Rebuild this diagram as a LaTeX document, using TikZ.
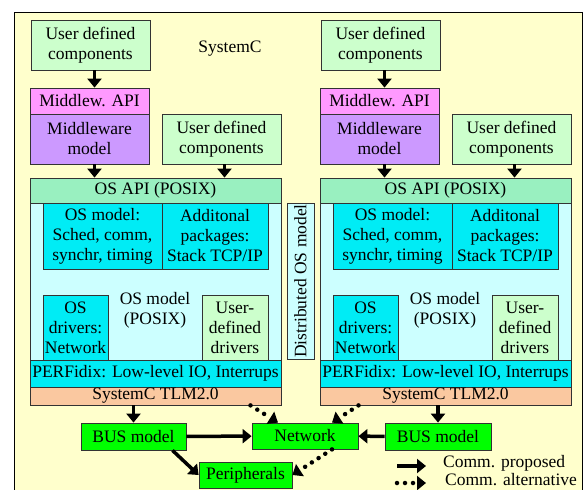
\documentclass[tikz,border=0pt]{standalone}
\usepackage{fontspec}
\setmainfont{Liberation Serif}
\usetikzlibrary{arrows.meta}

\definecolor{scbg}{RGB}{255,255,204}
\definecolor{usergreen}{RGB}{204,255,204}
\definecolor{mwapi}{RGB}{255,153,255}
\definecolor{mwmodel}{RGB}{204,153,255}
\definecolor{osapi}{RGB}{153,240,192}
\definecolor{osbg}{RGB}{204,255,255}
\definecolor{oscyan}{RGB}{0,236,245}
\definecolor{tlm}{RGB}{250,200,160}
\definecolor{hwgreen}{RGB}{0,255,0}

\newcommand{\boxfont}{\fontsize{17.5}{20}\selectfont}

\tikzset{
  blk/.style={draw=black!80, line width=0.8pt, inner sep=0pt, align=center, font=\boxfont},
  lbl/.style={inner sep=0pt, align=center, font=\boxfont},
  comm/.style={line width=3.5pt, -{Triangle[length=9pt,width=14pt]}},
  commalt/.style={line width=4.5pt, line cap=round, dash pattern=on 0pt off 8pt,
                  -{Triangle[length=9pt,width=14pt,line cap=butt]}},
}

\begin{document}
\begin{tikzpicture}[x=1pt,y=-1pt]
  \useasboundingbox (0,0) rectangle (584,490);
  \clip (0,0) rectangle (584,490);

  % SystemC frame
  \draw[fill=scbg, line width=1pt] (14,12) rectangle (582,500);
  \node[lbl] (sysc) at (230,49) {SystemC};

  % the two nodes (left and right)
  \foreach \s/\dx in {l/0, r/290} {
    \begin{scope}[xshift=\dx]
      \node[blk, fill=usergreen, minimum width=119, minimum height=50] (usera\s) at (90.5,45) {User defined\\components};
      \node[blk, fill=mwapi, minimum width=119, minimum height=26] (mwapi\s) at (89.5,101) {Middlew. API};
      \node[blk, fill=mwmodel, minimum width=119, minimum height=50] (mw\s) at (89.5,139) {Middleware\\model};
      \node[blk, fill=usergreen, minimum width=119, minimum height=50] (userb\s) at (221.5,139) {User defined\\components};

      \node[blk, fill=osapi, minimum width=251, minimum height=25] (osapi\s) at (155.5,190.5) {OS API (POSIX)};
      \node[blk, fill=osbg, minimum width=251, minimum height=157] (osbg\s) at (155.5,281.5) {};
      \node[blk, fill=oscyan, minimum width=119, minimum height=66] (osm\s) at (102.5,236) {OS model:\\Sched, comm,\\synchr, timing};
      \node[blk, fill=oscyan, minimum width=106, minimum height=66] (pkg\s) at (215,236) {Additonal\\packages:\\Stack TCP/IP};
      \node[blk, fill=oscyan, minimum width=65, minimum height=65] (drv\s) at (75.5,327.5) {OS\\drivers:\\Network};
      \node[blk, fill=usergreen, minimum width=66, minimum height=65] (udrv\s) at (235,327.5) {User-\\defined\\drivers};
      \node[lbl] (posix\s) at (155,310) {OS model\\(POSIX)};

      \node[blk, fill=oscyan, minimum width=251, minimum height=27] (perf\s) at (155.5,373.5) {PERFidix: Low-level IO, Interrups};
      \node[blk, fill=tlm, minimum width=251, minimum height=18] (tlm\s) at (155.5,396) {SystemC TLM2.0};

      \draw[comm] ([xshift=4pt]usera\s.south) -- ([xshift=4pt]usera\s.south |- mwapi\s.north);
      \draw[comm] ([xshift=5pt]mw\s.south) -- ([xshift=5pt]mw\s.south |- osapi\s.north);
      \draw[comm] ([xshift=3pt]userb\s.south) -- ([xshift=3pt]userb\s.south |- osapi\s.north);
    \end{scope}
  }

  \node[blk, fill=osbg, rotate=90, minimum width=156, minimum height=27] (dist) at (300.5,281) {Distributed OS model};

  % hardware side
  \node[blk, fill=hwgreen, minimum width=105, minimum height=27] (busl) at (133.5,436.5) {BUS model};
  \node[blk, fill=hwgreen, minimum width=106, minimum height=26] (net) at (305,436) {Network};
  \node[blk, fill=hwgreen, minimum width=106, minimum height=27] (busr) at (438,436.5) {BUS model};
  \node[blk, fill=hwgreen, minimum width=93, minimum height=26] (peri) at (245.5,475) {Peripherals};

  \draw[comm] (busl.north |- tlml.south) -- (busl.north);
  \draw[comm] (busr.north |- tlmr.south) -- (busr.north);
  \draw[comm] (busl) -- (net);
  \draw[comm] (busr) -- (net);
  \draw[comm] ([xshift=39pt]busl.south) -- (peri.west);
  \draw[commalt] ([xshift=95pt]tlml.south) -- ([xshift=-27pt]net.north);
  \draw[commalt] ([xshift=-87pt]tlmr.south) -- ([xshift=27pt]net.north);
  \draw[commalt] ([xshift=27pt]net.south) -- (peri.east);

  % legend
  \coordinate (lga) at (397,466);
  \coordinate (lgb) at (426,466);
  \coordinate (lgc) at (397,483);
  \coordinate (lgd) at (426,483);
  \draw[comm] (lga) -- (lgb);
  \draw[commalt] (lgc) -- (lgd);
  \node[lbl, anchor=west] (lgprop) at (443,463) {Comm. proposed};
  \node[lbl, anchor=west] (lgalt) at (445,480) {Comm. alternative};
\end{tikzpicture}
\end{document}
